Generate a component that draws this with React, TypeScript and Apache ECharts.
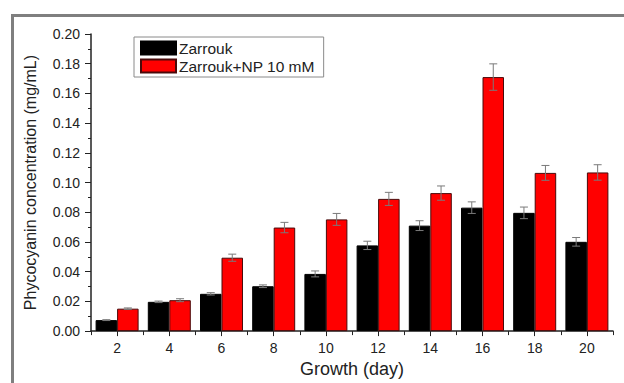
import React, { useEffect, useRef } from "react";
import * as echarts from "echarts";

const days = ["2", "4", "6", "8", "10", "12", "14", "16", "18", "20"];
const zarrouk = [0.0074, 0.0197, 0.0251, 0.0302, 0.0385, 0.0577, 0.071, 0.0831, 0.0796, 0.0601];
const zarroukErr = [0.0003, 0.0005, 0.0008, 0.0009, 0.002, 0.0028, 0.0033, 0.0039, 0.0039, 0.0029];
const zarroukNP = [0.0151, 0.0208, 0.0494, 0.0697, 0.0752, 0.089, 0.0929, 0.171, 0.1065, 0.1068];
const zarroukNPErr = [0.0005, 0.001, 0.0024, 0.0035, 0.004, 0.0044, 0.0048, 0.0089, 0.005, 0.0052];
const yTicks = { min: 0, max: 0.2, interval: 0.02 };

const FONT = "'Liberation Sans', Arial, Helvetica, sans-serif";
const BW = 21.5;

function errorSeries(name: string, vals: number[], errs: number[], side: number) {
  return {
    type: "custom",
    name: name + " err",
    xAxisIndex: 0,
    yAxisIndex: 0,
    z: 5,
    silent: true,
    data: vals.map((v, i) => [i, v, errs[i]]),
    renderItem: (params: any, api: any) => {
      const i = api.value(0);
      const v = api.value(1);
      const e = api.value(2);
      const top = api.coord([i, v + e]);
      const bot = api.coord([i, v - e]);
      const x = top[0] + side * (BW / 2);
      const cap = 4;
      const style = { stroke: "#7a7a7a", lineWidth: 1 };
      return {
        type: "group",
        children: [
          { type: "line", shape: { x1: x, y1: top[1], x2: x, y2: bot[1] }, style },
          { type: "line", shape: { x1: x - cap, y1: top[1], x2: x + cap, y2: top[1] }, style },
          { type: "line", shape: { x1: x - cap, y1: bot[1], x2: x + cap, y2: bot[1] }, style },
        ],
      };
    },
  };
}

export default function App() {
  const ref = useRef<HTMLDivElement>(null);
  useEffect(() => {
    document.body.style.margin = "0";
    const chart = echarts.init(ref.current!, null, { renderer: "svg" });
    chart.setOption({
      animation: false,
      backgroundColor: "#ffffff",
      textStyle: { fontFamily: FONT },
      grid: { left: 91, top: 34, width: 522, height: 305, containLabel: false },
      legend: {
        orient: "vertical",
        left: 134,
        top: 37,
        data: [
          { name: "Zarrouk", icon: "rect" },
          { name: "Zarrouk+NP 10 mM", icon: "rect" },
        ],
        itemWidth: 35,
        itemHeight: 13,
        itemGap: 2,
        padding: [3, 9, 3, 6],
        borderColor: "#8a8a8a",
        borderWidth: 1,
        textStyle: { fontSize: 15.5, color: "#222", fontFamily: FONT, lineHeight: 13, padding: [0, 0, 0, -2] },
      },
      xAxis: [
        {
          type: "category",
          data: days,
          position: "bottom",
          name: "Growth (day)",
          nameLocation: "middle",
          nameGap: 21,
          nameTextStyle: { fontSize: 18, color: "#222", fontFamily: FONT },
          axisLine: { lineStyle: { color: "#222", width: 1.5 } },
          axisTick: { show: true, length: 4, lineStyle: { color: "#222" } },
          axisLabel: { fontSize: 14, color: "#222", margin: 10, fontFamily: FONT },
        },
        {
          type: "category",
          data: days,
          position: "bottom",
          axisLine: { show: false },
          axisLabel: { show: false },
          axisTick: { show: true, alignWithLabel: true, length: 5, lineStyle: { color: "#222" } },
        },
      ],
      yAxis: {
        type: "value",
        min: yTicks.min,
        max: yTicks.max,
        interval: yTicks.interval,
        name: "Phycocyanin concentration (mg/mL)",
        nameLocation: "middle",
        nameGap: 53,
        nameTextStyle: { fontSize: 16, color: "#222", fontFamily: FONT },
        axisLine: { show: true, lineStyle: { color: "#222", width: 1.5 } },
        axisTick: { show: true, length: 6, lineStyle: { color: "#222" } },
        minorTick: { show: true, splitNumber: 2, length: 3, lineStyle: { color: "#222" } },
        splitLine: { show: false },
        axisLabel: {
          fontSize: 14,
          color: "#222",
          margin: 11,
          fontFamily: FONT,
          formatter: (v: number) => v.toFixed(2),
        },
      },
      graphic: [
        {
          type: "rect",
          left: 10,
          top: 13,
          shape: { x: 0, y: 0, width: 800, height: 600 },
          style: { fill: "none", stroke: "#7f7f7f", lineWidth: 3 },
          z: 100,
          silent: true,
        },
      ],
      series: [
        {
          type: "bar",
          name: "Zarrouk",
          data: zarrouk,
          barWidth: BW,
          barGap: "0%",
          itemStyle: { color: "#000000", borderColor: "#000000", borderWidth: 1 },
        },
        {
          type: "bar",
          name: "Zarrouk+NP 10 mM",
          data: zarroukNP,
          barWidth: BW,
          barGap: "0%",
          itemStyle: { color: "#ff0000", borderColor: "#4a0a0a", borderWidth: 1 },
        },
        errorSeries("Zarrouk", zarrouk, zarroukErr, -1),
        errorSeries("Zarrouk+NP 10 mM", zarroukNP, zarroukNPErr, 1),
      ],
    });
    return () => chart.dispose();
  }, []);
  return <div ref={ref} style={{ width: 624, height: 383 }} />;
}
